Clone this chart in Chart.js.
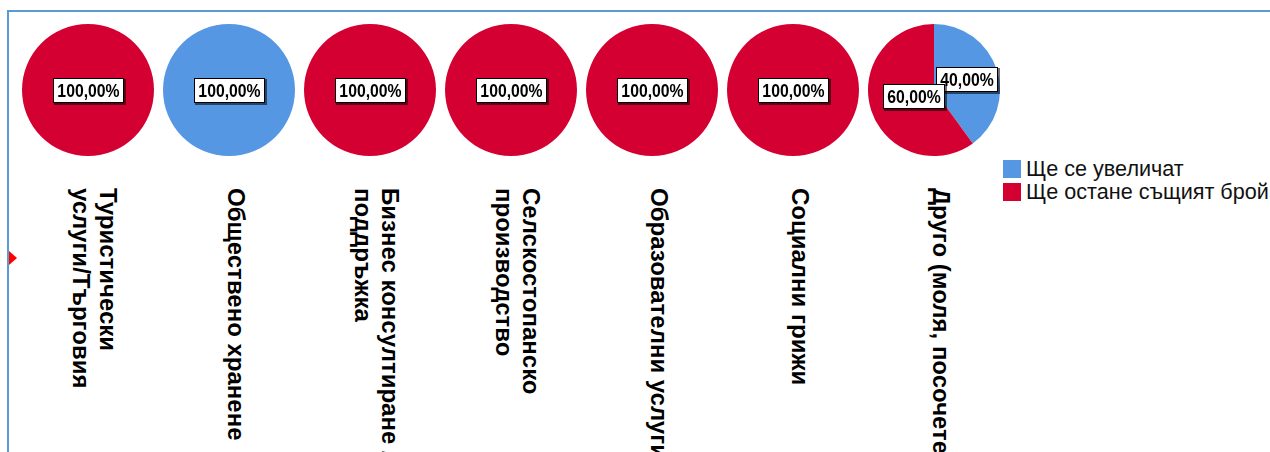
<!DOCTYPE html>
<html>
<head>
<meta charset="utf-8">
<script src="https://cdn.jsdelivr.net/npm/chart.js@4.4.1/dist/chart.umd.min.js"></script>
<style>
html, body { margin: 0; padding: 0; background: #fff; }
#frame { position: relative; width: 1270px; height: 452px; overflow: hidden; font-family: "Liberation Sans", Arial, sans-serif; }
#frame:before { content: ""; position: absolute; left: 7px; top: 10px; right: -5px; bottom: -5px;
  border-top: 2px solid #5B9BD5; border-left: 2px solid #5B9BD5; }
.marker { position: absolute; left: 9px; top: 251px; width: 0; height: 0;
  border-top: 7px solid transparent; border-bottom: 7px solid transparent; border-left: 8px solid #f00; }
.pie { position: absolute; top: 24px; }
.cat { position: absolute; top: 188px; width: 141px; display: flex; justify-content: center; }
.cat span { writing-mode: vertical-rl; font-weight: bold; font-size: 24px; line-height: 27px; color: #000; white-space: nowrap; }
#legend { position: absolute; left: 1003px; top: 160px; font-size: 21.6px; color: #111; }
#legend div { height: 23px; display: flex; align-items: flex-start; white-space: nowrap; }
#legend i { display: inline-block; width: 18px; height: 18px; margin-right: 5px; }
#legend b { font-weight: normal; line-height: 20px; margin-top: -1px; }
</style>
</head>
<body>
<div id="frame"><div class="marker"></div><div id="legend"></div></div>
<script>
// categories (multi-line labels as arrays, like Chart.js does)
const categories = [
    ['Туристически', 'услуги/Търговия'],
    ['Обществено хранене'],
    ['Бизнес консултиране /', 'поддръжка'],
    ['Селскостопанско', 'производство'],
    ['Образователни услуги'],
    ['Социални грижи'],
    ['Друго (моля, посочете)']
];
const seriesNames = ['Ще се увеличат', 'Ще остане същият брой'];
const seriesColors = ['#5597E3', '#D50032'];
// percentages per category
const increaseValues = [0, 100, 0, 0, 0, 0, 40];
const sameValues = [100, 0, 100, 100, 100, 100, 60];

// draws the white boxed percentage labels on the slices
const boxLabels = {
    id: 'boxLabels',
    afterDatasetsDraw(chart, args, opts) {
        const ctx = chart.ctx;
        const meta = chart.getDatasetMeta(0);
        const data = chart.data.datasets[0].data;
        const total = data.reduce((a, b) => a + b, 0);
        meta.data.forEach((arc, i) => {
            if (!data[i]) return;
            const p = arc.getProps(['x', 'y', 'startAngle', 'endAngle', 'outerRadius'], true);
            let x = p.x, y = p.y;
            if (p.endAngle - p.startAngle < Math.PI * 2 - 1e-6) {
                const a = (p.startAngle + p.endAngle) / 2;
                x += Math.cos(a) * p.outerRadius * opts.dist[i];
                y += Math.sin(a) * p.outerRadius * opts.dist[i];
            }
            const text = (data[i] / total * 100).toFixed(2).replace('.', ',') + '%';
            ctx.save();
            ctx.font = 'bold 19px "Liberation Sans", Arial, sans-serif';
            const w = Math.round(ctx.measureText(text).width * opts.sx + 9), h = 25;
            const l = Math.round(x - w / 2), t = Math.round(y - h / 2);
            ctx.fillStyle = 'rgba(0,0,0,0.55)';
            ctx.fillRect(l + 1, t + 1, w + 1, h + 1);
            ctx.fillStyle = '#fff';
            ctx.fillRect(l, t, w, h);
            ctx.strokeStyle = '#000'; ctx.lineWidth = 1;
            ctx.strokeRect(l + 0.5, t + 0.5, w - 1, h - 1);
            ctx.fillStyle = '#000';
            ctx.textAlign = 'center'; ctx.textBaseline = 'middle';
            ctx.translate(l + w / 2, t + h / 2 + 1);
            ctx.scale(opts.sx, 1);
            ctx.fillText(text, 0, 0);
            ctx.restore();
        });
    }
};

const frame = document.getElementById('frame');
categories.forEach((cat, i) => {
    const cx = 88 + i * 141;
    const canvas = document.createElement('canvas');
    canvas.width = 132; canvas.height = 132;
    canvas.className = 'pie';
    canvas.style.left = (cx - 66) + 'px';
    frame.appendChild(canvas);
    new Chart(canvas, {
        type: 'pie',
        data: {
            labels: seriesNames,
            datasets: [{data: [increaseValues[i], sameValues[i]], backgroundColor: seriesColors, borderWidth: 0}]
        },
        options: {
            responsive: false, animation: false, events: [],
            plugins: {
                legend: {display: false}, tooltip: {enabled: false},
                boxLabels: {dist: [0.52, 0.32], sx: 0.83}
            }
        },
        plugins: [boxLabels]
    });

    const label = document.createElement('div');
    label.className = 'cat';
    label.style.left = (cx - 70.5 + 7) + 'px';
    const span = document.createElement('span');
    span.innerHTML = cat.join('<br>');
    label.appendChild(span);
    frame.appendChild(label);
});

// html legend built from the series
const legend = document.getElementById('legend');
seriesNames.forEach((name, i) => {
    const row = document.createElement('div');
    row.innerHTML = `<i style="background:${seriesColors[i]}"></i><b>${name}</b>`;
    legend.appendChild(row);
});
</script>
</body>
</html>
